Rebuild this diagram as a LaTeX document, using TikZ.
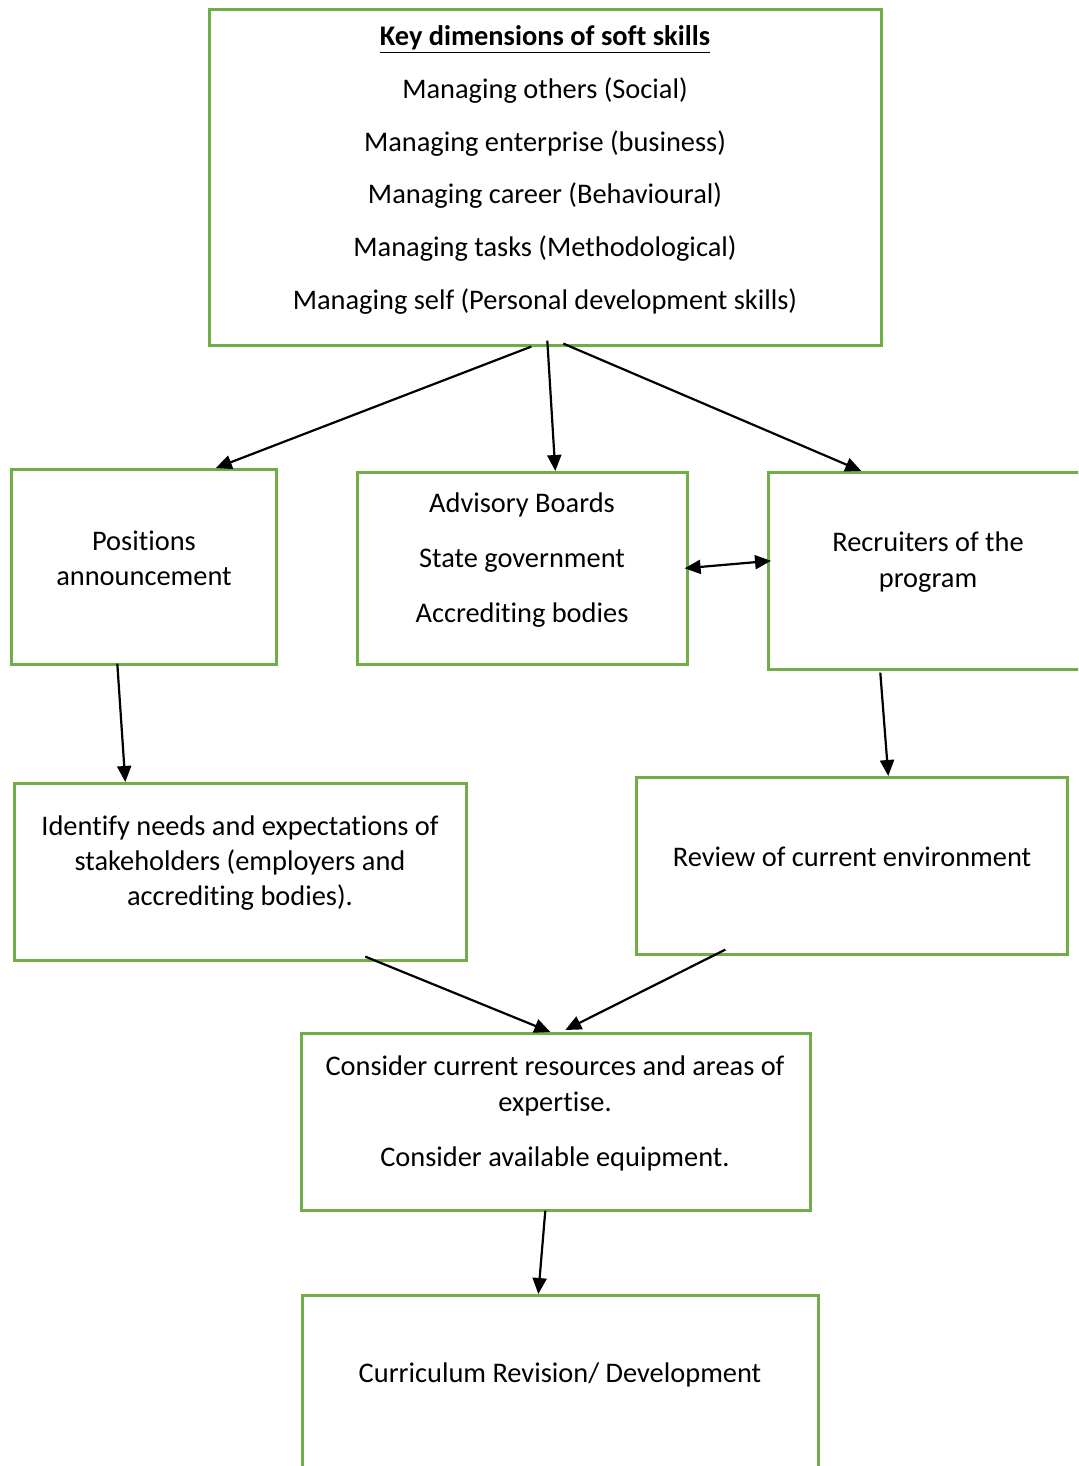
\documentclass[tikz,border=0pt]{standalone}
\usepackage{fontspec}
\setmainfont{Carlito}[Ligatures=NoCommon]
\usetikzlibrary{arrows.meta}
\definecolor{boxgreen}{HTML}{70AD47}
\tikzset{
  box/.style={draw=boxgreen, line width=1.3pt, inner sep=0pt, anchor=north west},
  txt/.style={inner sep=0pt, align=center, font=\fontsize{14.2}{17.5}\selectfont},
  arr/.style={line width=1.1pt, -{Triangle[length=8pt,width=7pt]}},
  darr/.style={line width=1.1pt, {Triangle[length=8pt,width=7pt]}-{Triangle[length=8pt,width=7pt]}}
}
\begin{document}
\begin{tikzpicture}[x=0.5pt,y=-0.5pt]
\useasboundingbox (0,0) rectangle (1078,1466);
\clip (0,0) rectangle (1078,1466);
\fill[white] (0,0) rectangle (1078,1466);
% boxes
\node[box, minimum width=336pt, minimum height=168pt] (top) at (208,8) {};
\node[box, minimum width=132.5pt, minimum height=97.5pt] (pos) at (10,468) {};
\node[box, minimum width=165pt, minimum height=96pt] (adv) at (356,471) {};
\node[box, minimum width=170pt, minimum height=98.5pt] (rec) at (767,471) {};
\node[box, minimum width=226pt, minimum height=88.5pt] (ident) at (13,782) {};
\node[box, minimum width=215.5pt, minimum height=88.5pt] (rev) at (635,776) {};
\node[box, minimum width=254.5pt, minimum height=88.5pt] (cons) at (300,1032) {};
\node[box, minimum width=258pt, minimum height=125pt] (curr) at (301,1294) {};
% texts
\node[txt, font=\fontsize{14.2}{26.4}\selectfont] (toptxt) at (545,170)
  {\textbf{\underline{Key dimensions of soft skills}}\\
   Managing others (Social)\\
   Managing enterprise (business)\\
   Managing career (Behavioural)\\
   Managing tasks (Methodological)\\
   Managing self (Personal development skills)};
\node[txt] (postxt) at (144,558) {Positions\\announcement};
\node[txt, font=\fontsize{14.2}{27.5}\selectfont] (advtxt) at (522,560)
  {Advisory Boards\\State government\\Accrediting bodies};
\node[txt, font=\fontsize{14.2}{18}\selectfont] (rectxt) at (928,562) {Recruiters of the\\program};
\node[txt] (identtxt) at (240,863)
  {Identify needs and expectations of\\stakeholders (employers and\\accrediting bodies).};
\node[txt] (revtxt) at (852,857) {Review of current environment};
\node[txt, font=\fontsize{14.2}{18}\selectfont] (constxt) at (555,1113.5)
  {Consider current resources and areas of\\expertise.\\[9.5pt]Consider available equipment.};
\node[txt] (currtxt) at (560,1375) {Curriculum Revision/ Development};
% connectors
\draw[arr] ([xshift=-7pt]top.south) -- ([xshift=36pt]pos.north);
\draw[arr] ([xshift=1pt,yshift=3pt]top.south) -- ([xshift=16.5pt]adv.north);
\draw[arr] ([xshift=9pt,yshift=1.5pt]top.south) -- ([xshift=-38.5pt]rec.north);
\draw[arr] ([xshift=-13.25pt,yshift=1pt]pos.south) -- ([xshift=-57.5pt]ident.north);
\draw[darr] ([xshift=-2pt]adv.east) -- ([xshift=2pt,yshift=5pt]rec.west);
\draw[arr] ([xshift=-29pt,yshift=-1pt]rec.south) -- ([xshift=18.25pt]rev.north);
\draw[arr] ([xshift=62.5pt,yshift=2.5pt]ident.south) -- ([xshift=-2.75pt]cons.north);
\draw[arr] ([xshift=-63.25pt,yshift=3pt]rev.south) -- ([xshift=4.75pt,yshift=1pt]cons.north);
\draw[arr] ([xshift=-5.25pt,yshift=0.5pt]cons.south) -- ([xshift=-11pt]curr.north);
\end{tikzpicture}
\end{document}
